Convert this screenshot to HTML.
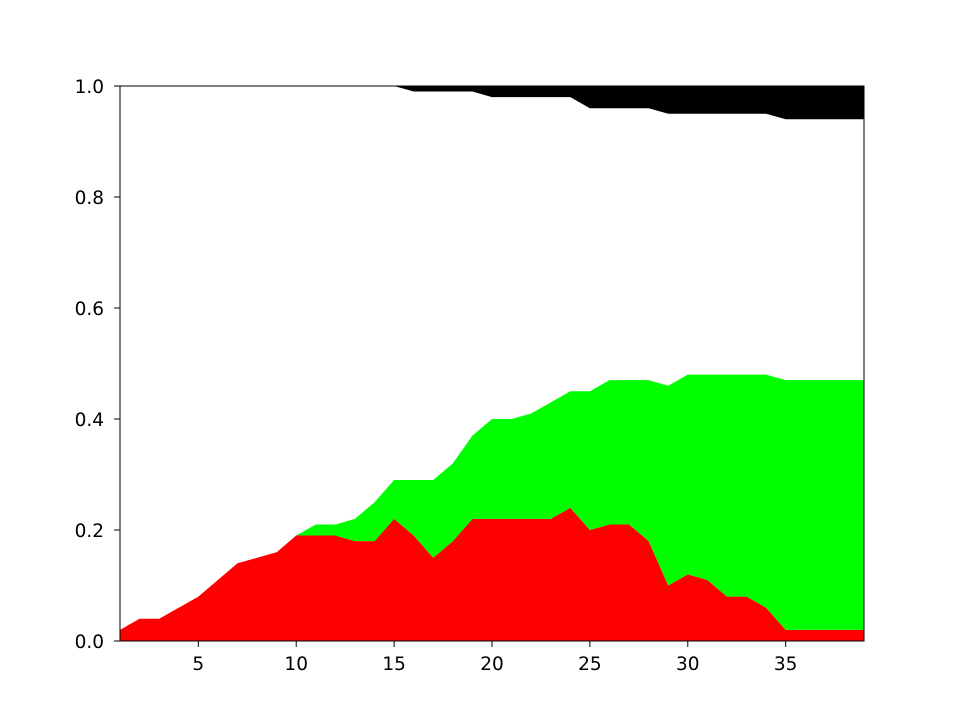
<!DOCTYPE html>
<html><head><meta charset="utf-8">
<style>
html,body{margin:0;padding:0;background:#fff;}
svg{display:block;font-family:"DejaVu Sans","Liberation Sans",sans-serif;}
</style></head>
<body>
<svg id="chart" width="960" height="720" viewBox="0 0 960 720" xmlns="http://www.w3.org/2000/svg">
<rect x="0" y="0" width="960" height="720" fill="#fff"/>
<g id="areas"></g>
<g id="axes"></g>
</svg>
<script>
const xs = [1,2,3,4,5,6,7,8,9,10,11,12,13,14,15,16,17,18,19,20,21,22,23,24,25,26,27,28,29,30,31,32,33,34,35,36,37,38,39];
const redVals = [0.02,0.04,0.04,0.06,0.08,0.11,0.14,0.15,0.16,0.19,0.19,0.19,0.18,0.18,0.22,0.19,0.15,0.18,0.22,0.22,0.22,0.22,0.22,0.24,0.20,0.21,0.21,0.18,0.10,0.12,0.11,0.08,0.08,0.06,0.02,0.02,0.02,0.02,0.02];
const greenVals = [0,0,0,0,0,0,0,0,0,0,0.02,0.02,0.04,0.07,0.07,0.10,0.14,0.14,0.15,0.18,0.18,0.19,0.21,0.21,0.25,0.26,0.26,0.29,0.36,0.36,0.37,0.40,0.40,0.42,0.45,0.45,0.45,0.45,0.45];
const blackVals = [0,0,0,0,0,0,0,0,0,0,0,0,0,0,0,0.01,0.01,0.01,0.01,0.02,0.02,0.02,0.02,0.02,0.04,0.04,0.04,0.04,0.05,0.05,0.05,0.05,0.05,0.05,0.06,0.06,0.06,0.06,0.06];
const xTicks = [5,10,15,20,25,30,35];
const yTicks = [0,0.2,0.4,0.6,0.8,1.0];
const yTickLabels = ["0.0","0.2","0.4","0.6","0.8","1.0"];

const L=120,R=864,T=86,B=641;
const xMin=1,xMax=39;
function xs2px(v){return L+(v-xMin)/(xMax-xMin)*(R-L);}
function ys2px(v){return B-v*(B-T);}
const NS="http://www.w3.org/2000/svg";
const areas=document.getElementById('areas');
const axes=document.getElementById('axes');

function band(lower, upper, color, name){
  let pts=[];
  for(let i=0;i<xs.length;i++) pts.push(xs2px(xs[i]).toFixed(2)+","+ys2px(upper[i]).toFixed(2));
  for(let i=xs.length-1;i>=0;i--) pts.push(xs2px(xs[i]).toFixed(2)+","+ys2px(lower[i]).toFixed(2));
  const p=document.createElementNS(NS,'polygon');
  p.setAttribute('points',pts.join(' '));
  p.setAttribute('fill',color);
  
  
  areas.appendChild(p);
}
const zero=xs.map(()=>0);
const redTop=redVals.slice();
const greenTop=redVals.map((r,i)=>r+greenVals[i]);
const one=xs.map(()=>1);
const blackBottom=blackVals.map(b=>1-b);
band(zero,redTop,'#ff0000','red-area');
band(redTop,greenTop,'#00ff00','green-area');
band(blackBottom,one,'#000000','black-area');

const frame=document.createElementNS(NS,'rect');
frame.setAttribute('x',L);frame.setAttribute('y',T);
frame.setAttribute('width',R-L);frame.setAttribute('height',B-T);
frame.setAttribute('fill','none');frame.setAttribute('stroke','#000');frame.setAttribute('stroke-width','1');


axes.appendChild(frame);

xTicks.forEach(v=>{
  const x=xs2px(v);
  const l=document.createElementNS(NS,'line');
  l.setAttribute('x1',x);l.setAttribute('x2',x);l.setAttribute('y1',B);l.setAttribute('y2',B+6);
  l.setAttribute('stroke','#000');
  
  
  axes.appendChild(l);
  const t=document.createElementNS(NS,'text');
  t.setAttribute('x',x);t.setAttribute('y',B+29);
  t.setAttribute('text-anchor','middle');t.setAttribute('font-size','18.5');
  t.textContent=String(v);
  
  
  axes.appendChild(t);
});
yTicks.forEach((v,i)=>{
  const y=ys2px(v);
  const l=document.createElementNS(NS,'line');
  l.setAttribute('x1',L-6);l.setAttribute('x2',L);l.setAttribute('y1',y);l.setAttribute('y2',y);
  l.setAttribute('stroke','#000');
  
  
  axes.appendChild(l);
  const t=document.createElementNS(NS,'text');
  t.setAttribute('x',L-16);t.setAttribute('y',y+7);
  t.setAttribute('text-anchor','end');t.setAttribute('font-size','18.5');
  t.textContent=yTickLabels[i];
  
  
  axes.appendChild(t);
});
</script>
</body></html>
